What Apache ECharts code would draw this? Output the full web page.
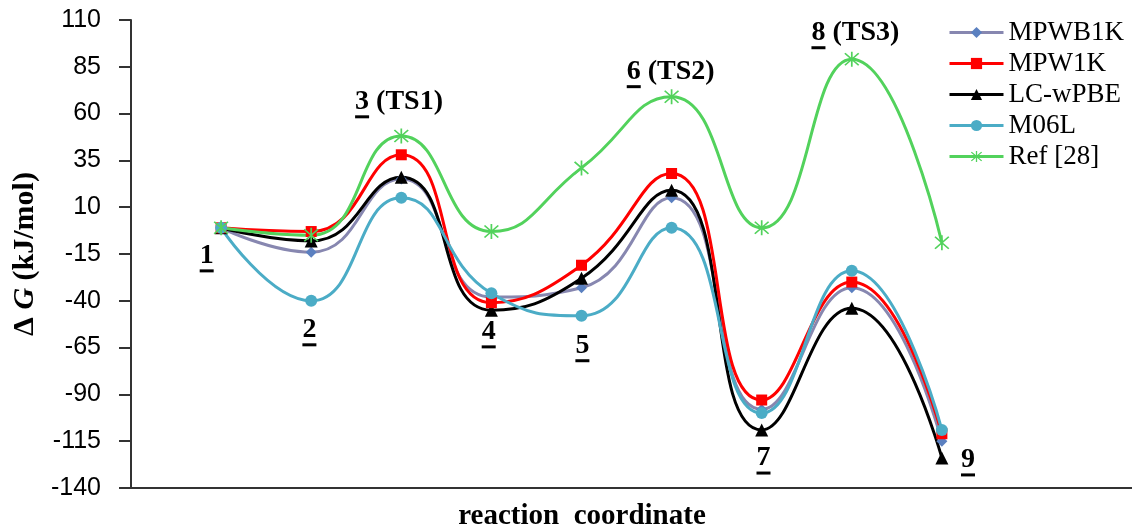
<!DOCTYPE html>
<html>
<head>
<meta charset="utf-8">
<script src="https://cdn.jsdelivr.net/npm/echarts@6/dist/echarts.min.js"></script>
<style>
html, body { margin: 0; padding: 0; background: #fff; }
#chart { width: 1132px; height: 530px; }
</style>
</head>
<body>
<div id="chart"></div>
<script>
// stage numbers along the reaction coordinate
var stages = [1, 2, 3, 4, 5, 6, 7, 8, 9];

// ΔG values (kJ/mol)
var mpwb1k = [-1, -14, 25, -38, -33, 15, -98, -33, -115];
var mpw1k  = [-1, -3, 38, -41, -21, 28, -93, -30, -111];
var lcwpbe = [-1, -8, 26, -45, -28, 19, -109, -44, -124];
var m06l   = [-1, -40, 15, -36, -48, -1, -100, -24, -109];
var ref28  = [-1, -5, 48, -3, 31, 69, -1, 89, -9];

// y axis
var yMin = -140, yMax = 110, yStep = 25;

// stage labels (number underlined + optional suffix), anchored in data units
var labelNum    = ['1', '2', '3', '4', '5', '6', '7', '8', '9'];
var labelSuffix = ['', '', ' (TS1)', '', '', ' (TS2)', '', ' (TS3)', ''];
var labelX      = [0.84, 1.98, 2.975, 3.97, 5.01, 5.99, 7.02, 8.04, 9.29];
var labelY      = [-16, -55.5, 66.3, -56.6, -64, 82.4, -124, 103.2, -125];

var SERIF = '"Liberation Serif", "Times New Roman", serif';
var starPath = 'path://M9 0L11 0L11 20L9 20Z M1.3 2.7L2.7 1.3L18.7 17.3L17.3 18.7Z M17.3 1.3L18.7 2.7L2.7 18.7L1.3 17.3Z';

function pairs(vals) {
	var out = [];
	for (var i = 0; i < vals.length; i++) {
		out.push([stages[i], vals[i]]);
	}
	return out;
}

function line(name, vals, lineColor, symColor, symbol, size) {
	return {
		name: name,
		type: 'line',
		smooth: 0.5,
		data: pairs(vals),
		symbol: symbol,
		symbolSize: size,
		lineStyle: { width: 3, color: lineColor },
		itemStyle: { color: symColor },
		emphasis: { disabled: true }
	};
}

var chart = echarts.init(document.getElementById('chart'));
chart.setOption({
	animation: false,
	grid: { left: 131, right: 0, top: 20, bottom: 42, containLabel: false, outerBoundsMode: 'none' },
	legend: {
		left: 943,
		top: 12,
		orient: 'vertical',
		itemWidth: 54,
		itemHeight: 14,
		itemGap: 0,
		lineStyle: { width: 3 },
		data: ['MPWB1K', 'MPW1K', 'LC-wPBE', 'M06L', 'Ref [28]'],
		textStyle: { fontFamily: SERIF, fontSize: 27, color: '#000', lineHeight: 31 }
	},
	xAxis: {
		type: 'value',
		min: 0,
		max: 11.11,
		axisLine: { onZero: false, lineStyle: { color: '#333', width: 2 } },
		axisTick: { show: false },
		axisLabel: { show: false },
		splitLine: { show: false }
	},
	yAxis: {
		type: 'value',
		min: yMin,
		max: yMax,
		interval: yStep,
		name: '{d|Δ }{g|G}{d| (kJ/mol)}',
		nameLocation: 'middle',
		nameGap: 89,
		nameRotate: 90,
		nameTextStyle: {
			rich: {
				d: { fontFamily: SERIF, fontWeight: 'bold', fontSize: 30, color: '#000' },
				g: { fontFamily: SERIF, fontWeight: 'bold', fontStyle: 'italic', fontSize: 30, color: '#000' }
			}
		},
		axisLine: { show: true, onZero: false, lineStyle: { color: '#333', width: 2 } },
		axisTick: { show: true, length: 12, lineStyle: { color: '#333', width: 2 } },
		axisLabel: { margin: 30, fontFamily: '"Liberation Sans", Arial, sans-serif', fontSize: 25, color: '#000' },
		splitLine: { show: false }
	},
	series: [
		line('MPWB1K', mpwb1k, '#8787b0', '#5b80c0', 'diamond', 11),
		line('LC-wPBE', lcwpbe, '#000000', '#000000', 'triangle', 13),
		line('MPW1K', mpw1k, '#ff0000', '#ff0000', 'rect', 11),
		line('M06L', m06l, '#4bacc6', '#4bacc6', 'circle', 12),
		line('Ref [28]', ref28, '#52d25c', '#52d25c', starPath, 15)
	]
});

// stage labels with underlined numbers
var ctx = document.createElement('canvas').getContext('2d');
var labelFont = 'bold 28px ' + SERIF;
ctx.font = labelFont;
var graphics = [];
for (var i = 0; i < labelNum.length; i++) {
	var p = chart.convertToPixel({ gridIndex: 0 }, [labelX[i], labelY[i]]);
	var full = labelNum[i] + labelSuffix[i];
	var w = ctx.measureText(full).width;
	var wn = ctx.measureText(labelNum[i]).width;
	var x0 = p[0] - w / 2;
	graphics.push({
		type: 'text',
		x: x0,
		y: p[1],
		style: { text: full, font: labelFont, fill: '#000', textAlign: 'left', textVerticalAlign: 'middle' }
	});
	graphics.push({
		type: 'line',
		shape: { x1: x0, y1: p[1] + 15, x2: x0 + wn, y2: p[1] + 15 },
		style: { stroke: '#000', lineWidth: 3 }
	});
}
graphics.push({
	type: 'text',
	x: 582,
	y: 517,
	style: { text: 'reaction  coordinate', font: 'bold 29px ' + SERIF, fill: '#000', textAlign: 'center', textVerticalAlign: 'middle' }
});
chart.setOption({ graphic: graphics });
</script>
</body>
</html>
